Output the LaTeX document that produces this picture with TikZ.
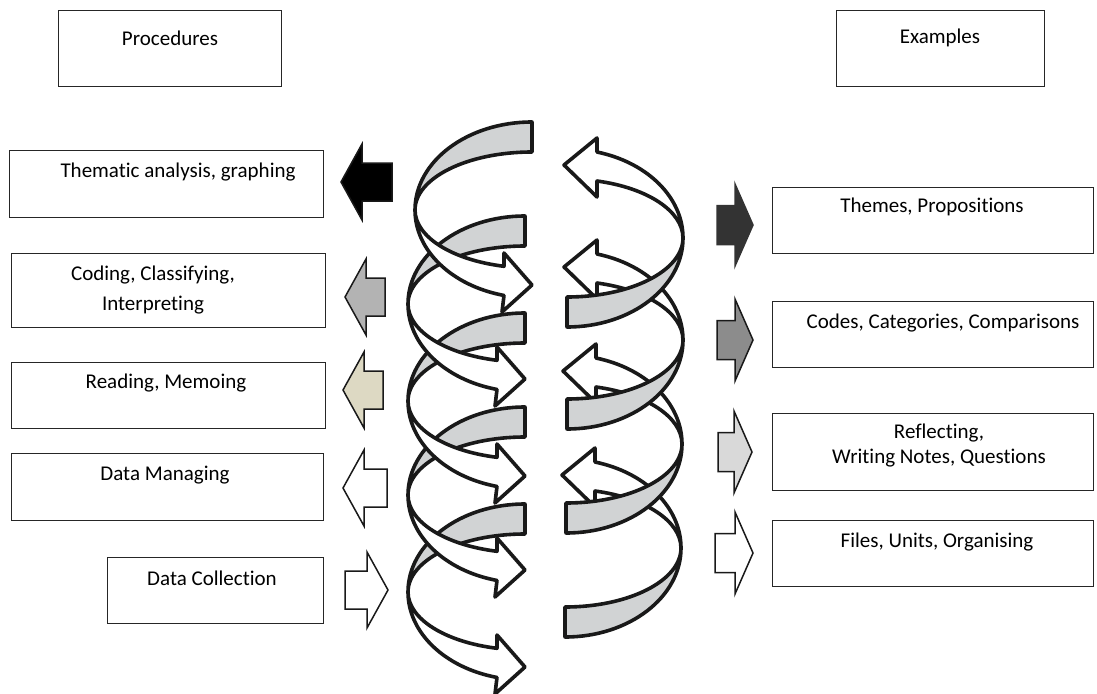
\documentclass[tikz,border=0pt]{standalone}
\usepackage{fontspec}
\setmainfont{Carlito}[Ligatures={NoCommon,NoRare,NoContextual}]
\usetikzlibrary{positioning}
\definecolor{ribbon-grey}{HTML}{D1D3D4}
\definecolor{arrow-grey}{HTML}{B3B3B3}
\definecolor{arrow-beige}{HTML}{DDD9C3}
\definecolor{arrow-dark}{HTML}{333333}
\definecolor{arrow-mid}{HTML}{8C8C8C}
\definecolor{arrow-light}{HTML}{D9D9D9}
\tikzset{
  box/.style={draw=black!85, line width=1.3pt, rectangle, inner sep=0pt, anchor=north west},
  boxtext/.style={inner sep=0pt, align=center, font=\fontsize{21}{25}\selectfont},
}

\begin{document}
\begin{tikzpicture}[
  x=1pt, y=-1pt,
  ribbon/.style={draw=black!90, line width=3.6pt, line join=round},
  block/.style={draw=black!90, line width=1.5pt, line join=miter}
]
\useasboundingbox (0,0) rectangle (1097,693);

% Headings
\node[box, minimum width=223pt, minimum height=76pt] (procedures) at (58,10) {};
\node[boxtext] (procedurestext) at (170,38) {Procedures};
\node[box, minimum width=208pt, minimum height=76pt] (examples) at (836,10) {};
\node[boxtext] (examplestext) at (940,38) {Examples};

% Procedures
\node[box, minimum width=314pt, minimum height=67pt] (thematic) at (9,150) {};
\node[boxtext] (thematictext) at (178,172) {Thematic analysis, graphing};
\node[box, minimum width=314pt, minimum height=74pt] (coding) at (11,253) {};
\node[boxtext, font=\fontsize{21}{30}\selectfont] (codingtext) at (153,290) {Coding, Classifying,\\Interpreting};
\node[box, minimum width=314pt, minimum height=66pt] (reading) at (11,362) {};
\node[boxtext] (readingtext) at (166,383) {Reading, Memoing};
\node[box, minimum width=312pt, minimum height=67pt] (managing) at (11,453) {};
\node[boxtext] (managingtext) at (165,475) {Data Managing};
\node[box, minimum width=216pt, minimum height=66pt] (collection) at (107,557) {};
\node[boxtext] (collectiontext) at (212,578) {Data Collection};

% Examples
\node[box, minimum width=321pt, minimum height=66pt] (themes) at (772,187) {};
\node[boxtext] (themestext) at (932,207) {Themes, Propositions};
\node[box, minimum width=321pt, minimum height=66pt] (codes) at (772,301) {};
\node[boxtext] (codestext) at (943,323) {Codes, Categories, Comparisons};
\node[box, minimum width=321pt, minimum height=77pt] (reflecting) at (772,413) {};
\node[boxtext] (reflectingtext) at (939,445.5) {Reflecting,\\Writing Notes, Questions};
\node[box, minimum width=321pt, minimum height=66pt] (files) at (772,520) {};
\node[boxtext] (filestext) at (937,542) {Files, Units, Organising};

% Block arrows, left side
\foreach \tx/\ty/\s/\len/\col in {341/182/1/51/black, 345/297/1/40/arrow-grey,
    343/390/1/40/arrow-beige, 343/488/1/44/white, 388/590/-1/43/white}
  \filldraw[block, fill=\col] (\tx,\ty) -- ++(\s*21,-38) -- ++(0,19) -- ++(\s*\len-\s*21,0)
    -- ++(0,38) -- ++(\s*21-\s*\len,0) -- ++(0,19) -- cycle;

% Block arrows, right side
\filldraw[block, draw=arrow-dark, fill=arrow-dark] (753,225) -- ++(-18,-41) -- ++(0,21.5) -- ++(-18,0)
    -- ++(0,39) -- ++(18,0) -- ++(0,21.5) -- cycle;
\foreach \tx/\ty/\len/\col in {753/340/36/arrow-mid, 752/452/34/arrow-light, 753/553/38/white}
  \filldraw[block, fill=\col] (\tx,\ty) -- ++(-18,-41) -- ++(0,21.5) -- ++(18-\len,0)
    -- ++(0,39) -- ++(\len-18,0) -- ++(0,21.5) -- cycle;

% Spiral, left column: back halves, then front halves
\foreach \cx/\cy in {532/210, 525/304, 525/401, 525/495, 525/592}
  \filldraw[ribbon, fill=ribbon-grey] (\cx,\cy-88)
    arc[start angle=-90, end angle=-180, x radius=117, y radius=88]
    arc[start angle=180, end angle=270, x radius=117, y radius=58] -- cycle;
\foreach \cx/\cy in {532/210, 525/304, 525/401, 525/495, 525/592}
  \filldraw[ribbon, fill=white] (\cx-117,\cy)
    arc[start angle=180, end angle=103.85, x radius=117, y radius=88]
    -- (\cx-30,\cy+102) -- (\cx,\cy+75) -- (\cx-28,\cy+43) -- (\cx-28,\cy+56.3)
    arc[start angle=103.85, end angle=180, x radius=117, y radius=58] -- cycle;

% Spiral, right column
\foreach \cx/\cy in {567/238, 567/340, 566/444, 565/548}
  \filldraw[ribbon, fill=white] (\cx+116,\cy)
    arc[start angle=0, end angle=-75, x radius=116, y radius=89]
    -- (\cx+30,\cy-100) -- (\cx-3,\cy-73) -- (\cx+30,\cy-41) -- (\cx+30,\cy-57)
    arc[start angle=-75, end angle=0, x radius=116, y radius=59] -- cycle;
\foreach \cx/\cy in {567/238, 567/340, 566/444, 565/548}
  \filldraw[ribbon, fill=ribbon-grey] (\cx,\cy+89)
    arc[start angle=90, end angle=0, x radius=116, y radius=89]
    arc[start angle=0, end angle=90, x radius=116, y radius=59] -- cycle;
\end{tikzpicture}
\end{document}
